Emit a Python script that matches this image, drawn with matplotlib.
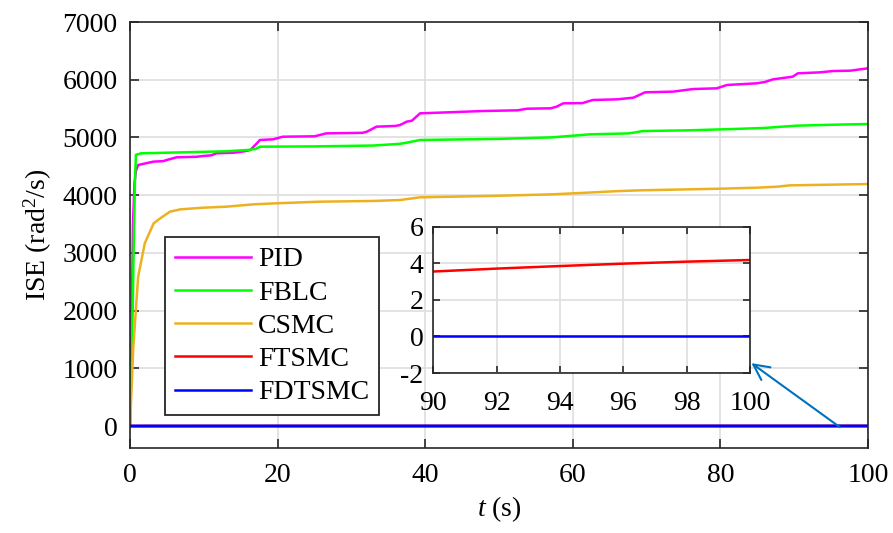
import matplotlib
matplotlib.use("Agg")
import matplotlib.pyplot as plt

# ISE curves (time in s, ISE in rad^2/s)
pid_t = [0, 0.2, 0.4, 0.6, 0.8, 1.1, 3.2, 4.5, 5, 6.3, 9, 9.9, 11, 11.7, 14,
         15.5, 16.3, 17.2, 17.6, 19.4, 20.7, 25, 25.7, 26.6, 31.5, 32.1, 33.4,
         36, 36.6, 37.5, 38.2, 38.8, 39.3, 42, 47.8, 52.5, 53.8, 57, 57.8,
         58.7, 61.3, 62.7, 66, 68.2, 69.8, 73.6, 76.3, 79.5, 80.9, 84.9, 86,
         87.1, 89.8, 90.5, 93.5, 95.3, 97.6, 100]
pid_v = [0, 1500, 3500, 4200, 4420, 4523, 4581, 4590, 4610, 4656, 4665, 4679,
         4690, 4725, 4735, 4760, 4782, 4900, 4956, 4968, 5013, 5020, 5042, 5071,
         5080, 5100, 5187, 5200, 5216, 5274, 5290, 5360, 5418, 5430, 5458, 5470,
         5498, 5505, 5533, 5591, 5595, 5649, 5660, 5689, 5782, 5794, 5839, 5851,
         5909, 5938, 5960, 6006, 6053, 6111, 6128, 6151, 6157, 6198]

fblc_t = [0, 0.15, 0.36, 0.55, 0.68, 0.8, 1.5, 13, 15.8, 17, 17.6, 25, 33, 36.6,
          37.5, 39.3, 50, 57.3, 58.3, 62.3, 67.5, 68.2, 69.5, 75.5, 81.7, 86,
          87.7, 90.4, 95, 100]
fblc_v = [0, 1000, 2000, 3500, 4300, 4700, 4725, 4760, 4782, 4800, 4840, 4845,
          4860, 4890, 4910, 4956, 4975, 5002, 5013, 5054, 5070, 5082, 5111, 5123,
          5146, 5165, 5181, 5204, 5220, 5233]

csmc_t = [0, 0.45, 1.1, 2, 3.2, 4.1, 5.4, 6.8, 9.9, 13, 16.7, 20, 25.7, 33,
          36.6, 39.3, 50, 57.3, 61.9, 66, 69.1, 79.9, 85, 87.7, 89.4, 100]
csmc_v = [0, 1374, 2587, 3166, 3512, 3599, 3714, 3754, 3783, 3800, 3841, 3860,
          3887, 3900, 3916, 3963, 3990, 4015, 4043, 4070, 4084, 4112, 4130, 4147,
          4170, 4193]

ftsmc_t = [0, 2, 10, 30, 60, 90, 92, 94, 96, 98, 100]
ftsmc_v = [0, 1.0, 1.8, 2.6, 3.2, 3.55, 3.71, 3.85, 3.98, 4.09, 4.18]

fdtsmc_t = [0, 20, 40, 60, 80, 100]
fdtsmc_v = [0, 0, 0, 0, 0, 0]

series = [
    ("PID", pid_t, pid_v, "#ff00ff"),
    ("FBLC", fblc_t, fblc_v, "#00ff00"),
    ("CSMC", csmc_t, csmc_v, "#edb120"),
    ("FTSMC", ftsmc_t, ftsmc_v, "#ff0000"),
    ("FDTSMC", fdtsmc_t, fdtsmc_v, "#0000ff"),
]

arrow_tail = (96.2, -20)
arrow_tip = (84.2, 1090)

plt.rcParams["font.family"] = ["Liberation Serif", "DejaVu Serif"]
plt.rcParams["mathtext.fontset"] = "custom"
plt.rcParams["mathtext.rm"] = "Liberation Serif"
plt.rcParams["mathtext.it"] = "Liberation Serif:italic"
plt.rcParams["font.size"] = 20
plt.rcParams["axes.unicode_minus"] = False

axcol = "#262626"
gridcol = "#e0e0e0"

fig = plt.figure(figsize=(8.93, 5.33), dpi=100)
ax = fig.add_axes([0.1456, 0.1595, 0.8264, 0.7992])

for i, (name, t, v, c) in enumerate(series):
    # the zero curve sits on top of the red one, as in the source
    lw = 2.2 if name == "FDTSMC" else 1.8
    ax.plot(t, v, color=c, lw=lw, label=name, zorder=2 + 0.1 * i,
            snap=False)

ax.set_xlim(0, 100)
ax.set_ylim(-380, 7000)
ax.set_xticks(range(0, 101, 20))
ax.set_yticks(range(0, 7001, 1000))
ax.grid(True, color=gridcol, lw=1.3)
ax.set_axisbelow(True)
ax.tick_params(direction="in", length=6.5, width=1.2, colors=axcol,
               top=True, right=True, labelcolor="black")
ax.tick_params(axis="x", pad=11)
ax.tick_params(axis="y", pad=9)
for s in ax.spines.values():
    s.set_color(axcol)
    s.set_linewidth(1.2)
ax.set_xlabel(r"$t$ (s)", labelpad=4)
ax.set_ylabel(r"ISE (rad$^2$/s)", labelpad=6)

leg = ax.legend(loc="lower left", bbox_to_anchor=(0.0475, 0.0775),
                handlelength=2.75, handletextpad=0.25, labelspacing=0.28,
                borderpad=0.35, fancybox=False, framealpha=1,
                edgecolor=axcol, borderaxespad=0)
leg.get_frame().set_linewidth(1.3)
for h in leg.get_lines():
    h.set_linewidth(1.8)

ax.annotate("", xy=arrow_tip, xytext=arrow_tail,
            arrowprops=dict(arrowstyle="->", color="#0072bd", lw=1.5,
                            mutation_scale=28, shrinkA=0, shrinkB=0))

ins = fig.add_axes([0.4852, 0.3, 0.3547, 0.2747])
for name, t, v, c in series:
    ins.plot(t, v, color=c, lw=1.8)
ins.set_xlim(90, 100)
ins.set_ylim(-2, 6)
ins.set_xticks(range(90, 101, 2))
ins.set_yticks(range(-2, 7, 2))
ins.grid(True, color=gridcol, lw=1.3)
ins.set_axisbelow(True)
ins.tick_params(direction="in", length=5, width=1.2, colors=axcol,
                top=True, right=True, labelcolor="black")
ins.tick_params(axis="x", pad=13)
ins.tick_params(axis="y", pad=7)
for s in ins.spines.values():
    s.set_color(axcol)
    s.set_linewidth(1.2)

fig.savefig("out.png", dpi=100)
